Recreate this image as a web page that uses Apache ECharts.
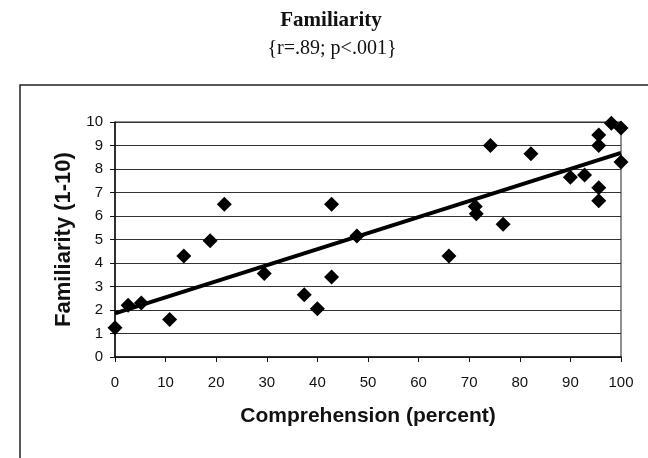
<!DOCTYPE html>
<html>
<head>
<meta charset="utf-8">
<script src="https://cdn.jsdelivr.net/npm/echarts@6/dist/echarts.min.js"></script>
<style>
  html, body { margin: 0; padding: 0; background: #fff; }
  #chart { width: 648px; height: 458px; }
</style>
</head>
<body>
<div id="chart"></div>
<script>
// comprehension (percent) vs familiarity (1-10)
var comprehension = [0, 2.6, 5.2, 10.8, 13.6, 18.8, 21.6, 29.5, 37.4, 40.0, 42.8, 42.8, 47.8,
    66.0, 71.2, 71.4, 74.2, 76.7, 82.2, 90.0, 92.8, 95.6, 95.6, 95.6, 95.6, 98.1, 100, 100];
var familiarity = [1.25, 2.2, 2.3, 1.6, 4.3, 4.95, 6.5, 3.55, 2.65, 2.05, 6.5, 3.4, 5.15,
    4.3, 6.4, 6.1, 9.0, 5.65, 8.65, 7.65, 7.75, 9.45, 9.0, 7.2, 6.65, 9.95, 9.75, 8.3];

// regression line end points
var trendX = [0, 100];
var trendY = [1.86, 8.69];

var xTicks = [0, 10, 20, 30, 40, 50, 60, 70, 80, 90, 100];
var yTicks = [0, 1, 2, 3, 4, 5, 6, 7, 8, 9, 10];

var points = comprehension.map(function (x, i) { return [x, familiarity[i]]; });
var trend = trendX.map(function (x, i) { return [x, trendY[i]]; });

var myChart = echarts.init(document.getElementById('chart'));
var sans = 'Liberation Sans';

var option = {
    animation: false,
    backgroundColor: '#fff',
    title: [{
        text: 'Familiarity',
        left: 326,
        top: 5,
        textAlign: 'center',
        textStyle: {
            fontFamily: 'Liberation Serif',
            fontWeight: 'bold',
            fontSize: 21,
            color: '#111'
        }
    }, {
        text: '{r=.89; p<.001}',
        left: 327,
        top: 34,
        textAlign: 'center',
        textStyle: {
            fontFamily: 'Liberation Serif',
            fontWeight: 'normal',
            fontSize: 20,
            color: '#111'
        }
    }],
    graphic: [{
        type: 'rect',
        shape: {x: 20, y: 85, width: 700, height: 500},
        style: {fill: 'none', stroke: '#222', lineWidth: 1.5},
        silent: true
    }],
    grid: {
        left: 115,
        right: 27,
        top: 122,
        bottom: 101,
        show: true,
        borderColor: '#222',
        borderWidth: 1
    },
    xAxis: {
        type: 'value',
        min: 0,
        max: 100,
        interval: 10,
        name: 'Comprehension (percent)',
        nameLocation: 'middle',
        nameGap: 49,
        nameTextStyle: {
            fontFamily: sans,
            fontWeight: 'bold',
            fontSize: 21,
            color: '#111'
        },
        axisLine: {show: true, lineStyle: {color: '#111', width: 1.5}},
        axisTick: {show: true, length: 5, lineStyle: {color: '#111'}},
        axisLabel: {
            margin: 18,
            fontFamily: sans,
            fontSize: 15,
            color: '#111',
            formatter: function (v) { return xTicks.indexOf(v) >= 0 ? String(v) : ''; }
        },
        splitLine: {show: false}
    },
    yAxis: {
        type: 'value',
        min: 0,
        max: 10,
        interval: 1,
        name: 'Familiarity (1-10)',
        nameLocation: 'middle',
        nameGap: 40,
        nameTextStyle: {
            fontFamily: sans,
            fontWeight: 'bold',
            fontSize: 22,
            color: '#111'
        },
        axisLine: {show: true, lineStyle: {color: '#111', width: 1.5}},
        axisTick: {show: true, length: 5, lineStyle: {color: '#111'}},
        axisLabel: {
            margin: 12,
            fontFamily: sans,
            fontSize: 15,
            color: '#111',
            formatter: function (v) { return yTicks.indexOf(v) >= 0 ? String(v) : ''; }
        },
        splitLine: {show: true, lineStyle: {color: '#333', width: 1}}
    },
    series: [{
        name: 'trend',
        type: 'line',
        data: trend,
        showSymbol: false,
        symbol: 'none',
        lineStyle: {color: '#000', width: 4},
        z: 3
    }, {
        name: 'familiarity',
        type: 'scatter',
        data: points,
        symbol: 'diamond',
        symbolSize: 15,
        clip: false,
        itemStyle: {color: '#000', opacity: 1},
        z: 4
    }]
};

myChart.setOption(option);
</script>
</body>
</html>
